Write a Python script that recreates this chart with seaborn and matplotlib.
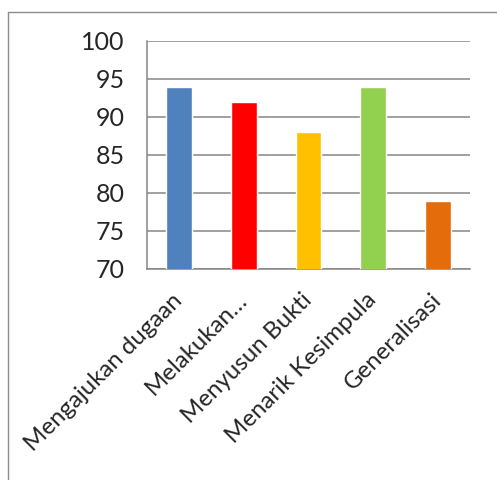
import matplotlib
matplotlib.use("Agg")
import matplotlib.pyplot as plt
import seaborn as sns
import pandas as pd
from matplotlib.lines import Line2D

# data
categories = ["Mengajukan dugaan", "Melakukan…", "Menyusun Bukti", "Menarik Kesimpula", "Generalisasi"]
values = [94, 92, 88, 94, 79]
colors = ["#4F81BD", "#FF0000", "#FFC000", "#92D050", "#E46C0A"]
y_ticks = [70, 75, 80, 85, 90, 95, 100]

df = pd.DataFrame({"category": categories, "value": values})

sns.set_style("white")
plt.rcParams["font.family"] = ["Lato", "DejaVu Sans"]

fig = plt.figure(figsize=(4.97, 4.8), dpi=100)
ax = fig.add_axes([0.2958, 0.4396, 0.6499, 0.4750])

sns.barplot(data=df, x="category", y="value", hue="category", palette=colors,
            width=0.4, legend=False, ax=ax, saturation=1, zorder=3)

grid_c = "#868686"
ax.set_ylim(70, 100)
ax.set_xlim(-0.5, len(categories) - 0.5)
ax.set_yticks(y_ticks)
ax.set_yticklabels([str(v) for v in y_ticks], fontsize=18)
ax.yaxis.grid(True, color=grid_c, linewidth=1.1, zorder=0)
ax.set_axisbelow(True)

ax.set_xticks(range(len(categories)))
ax.set_xticklabels(categories, fontsize=17.3, rotation=45, ha="right",
                   va="center", rotation_mode="anchor")
ax.tick_params(axis="x", length=0, pad=20)
ax.set_xticks([i - 0.5 for i in range(len(categories) + 1)], minor=True)
ax.tick_params(axis="x", which="minor", length=6, width=1.1, color=grid_c, direction="out")
ax.tick_params(axis="y", length=6, width=1.1, color=grid_c, direction="out", pad=10)

for side in ["top", "right"]:
    ax.spines[side].set_visible(False)
for side in ["left", "bottom"]:
    ax.spines[side].set_color(grid_c)
    ax.spines[side].set_linewidth(1.1)

ax.set_xlabel("")
ax.set_ylabel("")

# chart frame (top and left edges visible)
W, H = 497, 480
fig.add_artist(Line2D([7.5 / W, 1], [1 - 11.5 / H, 1 - 11.5 / H], color="#8C8C8C", lw=1.0))
fig.add_artist(Line2D([7.5 / W, 7.5 / W], [0, 1 - 11.5 / H], color="#8C8C8C", lw=1.0))

fig.savefig("out.png", dpi=100)
